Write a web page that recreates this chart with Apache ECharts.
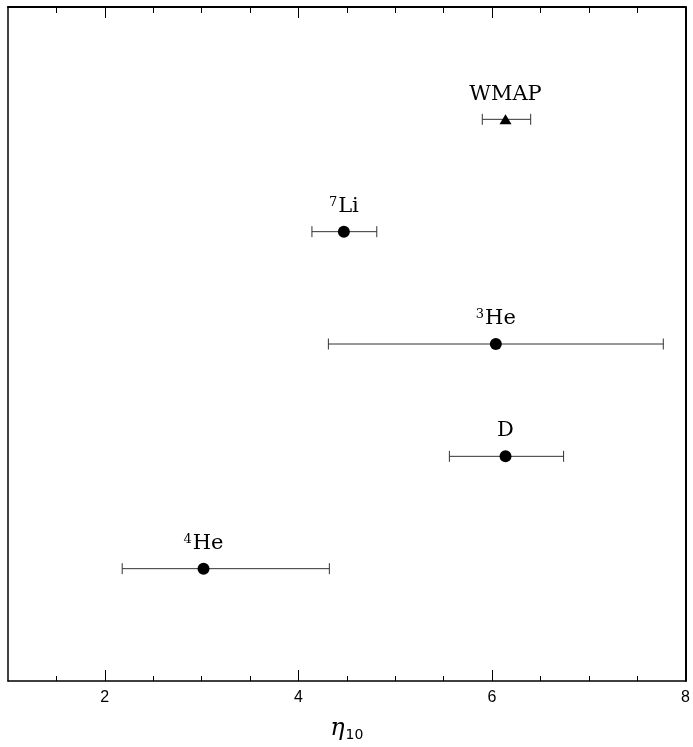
<!DOCTYPE html>
<html>
<head>
<meta charset="utf-8">
<script src="https://cdn.jsdelivr.net/npm/echarts@6/dist/echarts.min.js"></script>
<style>
html,body{margin:0;padding:0;background:#fff;}
#chart{width:693px;height:747px;}
</style>
</head>
<body>
<div id="chart"></div>
<script>
// Data
const rows = [1, 2, 3, 4, 5];
const massNumbers = ['4', '', '3', '7', ''];
const symbols = ['He', 'D', 'He', 'Li', 'WMAP'];
const eta = [3.02, 6.14, 6.04, 4.47, 6.14];
const etaLow = [2.18, 5.56, 4.31, 4.14, 5.90];
const etaHigh = [4.32, 6.74, 7.77, 4.81, 6.40];
const markerShapes = ['circle', 'circle', 'circle', 'circle', 'triangle'];
const xMin = 1, xMax = 8;
const majorTicks = [2, 4, 6];
const minorTicks = [1.5, 2.5, 3, 3.5, 4.5, 5, 5.5, 6.5, 7, 7.5];
const tickLabels = [2, 4, 6, 8];

const chart = echarts.init(document.getElementById('chart'), null, {renderer: 'canvas'});

const points = rows.map((r, i) => ({
  value: [eta[i], r],
  symbol: markerShapes[i],
  symbolSize: markerShapes[i] === 'triangle' ? [12, 10] : 12,
  label: {
    formatter: massNumbers[i] ? '{sup|' + massNumbers[i] + '}{n|' + symbols[i] + '}' : '{n|' + symbols[i] + '}'
  }
}));

const bars = rows.map((r, i) => [etaLow[i], etaHigh[i], r]);

function xAxisBase(pos, ticks, len, labels) {
  return {
    type: 'value', position: pos, min: xMin, max: xMax,
    splitLine: {show: false},
    axisLine: {show: false},
    axisTick: {show: true, inside: true, length: len, customValues: ticks, lineStyle: {color: '#000', width: 1}},
    axisLabel: labels ? {show: true, customValues: labels, color: '#000', fontFamily: 'Liberation Sans', fontSize: 16, margin: 9} : {show: false}
  };
}

const bottomMain = xAxisBase('bottom', minorTicks, 5, tickLabels);
bottomMain.axisLine = {show: true, lineStyle: {color: '#000', width: 1.5}};
bottomMain.name = '{eta|η}{sub|10}';
bottomMain.nameLocation = 'middle';
bottomMain.nameGap = 35;
bottomMain.nameTextStyle = {
  rich: {
    eta: {fontFamily: 'DejaVu Serif', fontStyle: 'italic', fontSize: 24, color: '#000'},
    sub: {fontFamily: 'DejaVu Sans', fontSize: 14, color: '#000', verticalAlign: 'bottom', padding: [12, 0, 0, 1]}
  }
};
const topMain = xAxisBase('top', minorTicks, 6, null);
topMain.axisLine = {show: true, lineStyle: {color: '#000', width: 2}};

const option = {
  animation: false,
  backgroundColor: '#fff',
  grid: {left: 8, right: 7, top: 7, bottom: 62, containLabel: false},
  xAxis: [
    bottomMain,
    xAxisBase('bottom', majorTicks, 11, null),
    topMain,
    xAxisBase('top', majorTicks, 11, null)
  ],
  yAxis: [
    {type: 'value', min: 0, max: 6, position: 'left', splitLine: {show: false},
     axisLine: {show: true, lineStyle: {color: '#000', width: 1.5}}, axisTick: {show: false}, axisLabel: {show: false}},
    {type: 'value', min: 0, max: 6, position: 'right', splitLine: {show: false},
     axisLine: {show: true, lineStyle: {color: '#000', width: 2}}, axisTick: {show: false}, axisLabel: {show: false}}
  ],
  series: [
    {
      type: 'custom',
      xAxisIndex: 0, yAxisIndex: 0,
      data: bars,
      z: 2,
      renderItem: function (params, api) {
        const lo = api.coord([api.value(0), api.value(2)]);
        const hi = api.coord([api.value(1), api.value(2)]);
        const h = 5.5;
        const style = {stroke: '#333', lineWidth: 1};
        return {
          type: 'group',
          children: [
            {type: 'line', shape: {x1: lo[0], y1: lo[1], x2: hi[0], y2: hi[1]}, style: style},
            {type: 'line', shape: {x1: lo[0], y1: lo[1] - h, x2: lo[0], y2: lo[1] + h}, style: style},
            {type: 'line', shape: {x1: hi[0], y1: hi[1] - h, x2: hi[0], y2: hi[1] + h}, style: style}
          ]
        };
      }
    },
    {
      type: 'scatter',
      xAxisIndex: 0, yAxisIndex: 0,
      z: 3,
      data: points,
      itemStyle: {color: '#000', opacity: 1},
      emphasis: {disabled: true},
      label: {
        show: true,
        position: 'top',
        distance: 9,
        color: '#000',
        rich: {
          n: {fontFamily: 'DejaVu Serif', fontSize: 21, color: '#000'},
          sup: {fontFamily: 'DejaVu Serif', fontSize: 13, color: '#000', verticalAlign: 'top', padding: [0, 1, 8, 0]}
        }
      }
    }
  ]
};
chart.setOption(option);
</script>
</body>
</html>
